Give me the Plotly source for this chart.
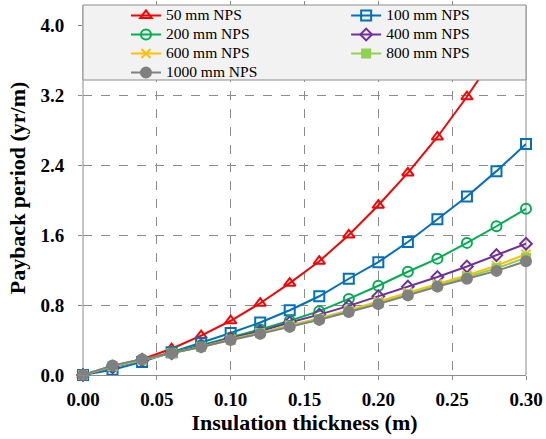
import plotly.graph_objects as go

thickness = [0.00, 0.02, 0.04, 0.06, 0.08, 0.10, 0.12, 0.14, 0.16, 0.18, 0.20, 0.22, 0.24, 0.26, 0.28, 0.30]

nps_50 = [0.00, 0.10, 0.18, 0.30, 0.45, 0.62, 0.82, 1.05, 1.30, 1.60, 1.94, 2.31, 2.72, 3.18, 3.68]
nps_100 = [0.00, 0.06, 0.15, 0.26, 0.37, 0.48, 0.60, 0.74, 0.90, 1.10, 1.29, 1.52, 1.78, 2.04, 2.33, 2.64]
nps_200 = [0.00, 0.09, 0.17, 0.26, 0.34, 0.43, 0.52, 0.62, 0.73, 0.87, 1.02, 1.18, 1.33, 1.51, 1.70, 1.90]
nps_400 = [0.00, 0.09, 0.17, 0.25, 0.33, 0.42, 0.50, 0.60, 0.69, 0.79, 0.90, 1.01, 1.12, 1.24, 1.37, 1.50]
nps_600 = [0.00, 0.10, 0.17, 0.25, 0.32, 0.41, 0.48, 0.57, 0.65, 0.74, 0.84, 0.94, 1.04, 1.14, 1.25, 1.38]
nps_800 = [0.00, 0.10, 0.17, 0.25, 0.32, 0.40, 0.48, 0.56, 0.64, 0.73, 0.82, 0.92, 1.02, 1.12, 1.22, 1.34]
nps_1000 = [0.00, 0.11, 0.18, 0.25, 0.32, 0.40, 0.47, 0.55, 0.63, 0.72, 0.81, 0.91, 1.01, 1.10, 1.19, 1.30]

# (name, values, colour, symbol, size, legend column)
series = [
    ("50 mm NPS", nps_50, "#FF0000", "triangle-up-open", 10, "legend"),
    ("100 mm NPS", nps_100, "#0070C0", "square-open", 10, "legend2"),
    ("200 mm NPS", nps_200, "#00B050", "circle-open", 10, "legend"),
    ("400 mm NPS", nps_400, "#7030A0", "diamond-open", 9, "legend2"),
    ("600 mm NPS", nps_600, "#FFC000", "x-thin-open", 9, "legend"),
    ("800 mm NPS", nps_800, "#92D050", "square", 8, "legend2"),
    ("1000 mm NPS", nps_1000, "#808080", "circle", 10, "legend"),
]

y_ticks = [0.0, 0.8, 1.6, 2.4, 3.2, 4.0]
x_ticks = [0.00, 0.05, 0.10, 0.15, 0.20, 0.25, 0.30]

fig = go.Figure()
for name, vals, color, sym, size, leg in series:
    fig.add_trace(go.Scatter(
        x=thickness[:len(vals)], y=vals,
        name='<span style="font-size:15.5px">' + name + '</span>',
        mode="lines+markers",
        line=dict(color=color, width=2),
        marker=dict(symbol=sym, size=size, color=color,
                    line=dict(color=color, width=2)),
        cliponaxis=False, legend=leg,
    ))

font_family = "Liberation Serif, Times New Roman, serif"

box_top = 370 / 374
box_bottom = (375 - 80) / 374
axis_grey = "#8C8C8C"

# frame lines (left axis and right edge) up to the legend box
for xp in (0, 1):
    fig.add_shape(type="line", xref="paper", yref="paper",
                  x0=xp, x1=xp, y0=0, y1=box_top,
                  line=dict(color=axis_grey, width=1), layer="between")

# legend background box
fig.add_shape(type="rect", xref="paper", yref="paper",
              x0=0, x1=1, y0=box_bottom, y1=box_top,
              fillcolor="#F2F2F2", line=dict(color=axis_grey, width=1),
              layer="above")

legend_common = dict(
    orientation="v", y=1.0, xanchor="left", yanchor="top",
    bgcolor="rgba(0,0,0,0)", borderwidth=0,
    font=dict(family=font_family, size=12, color="#000000"),
    itemwidth=30, tracegroupgap=0,
)

fig.update_layout(
    width=546, height=439,
    margin=dict(l=83, r=20, t=1, b=64),
    paper_bgcolor="white", plot_bgcolor="white",
    font=dict(family=font_family, color="#000000"),
    showlegend=True,
    legend=dict(x=0.097, **legend_common),
    legend2=dict(x=0.594, **legend_common),
    xaxis=dict(
        range=[0, 0.30], tickvals=x_ticks, tickformat=".2f",
        showline=True, linecolor=axis_grey, linewidth=1,
        ticks="outside", ticklen=4, tickcolor=axis_grey,
        ticklabelstandoff=3,
        showgrid=True, gridcolor=axis_grey, griddash="dash", gridwidth=1,
        zeroline=False,
        tickfont=dict(family=font_family, size=19, color="#000000", weight="bold"),
        title=dict(text="<b>Insulation thickness (m)</b>",
                   font=dict(family=font_family, size=22, color="#000000"),
                   standoff=0),
    ),
    yaxis=dict(
        range=[0, 374 / 87.5], tickvals=y_ticks, tickformat=".1f",
        showline=False,
        ticks="outside", ticklen=4, tickcolor=axis_grey,
        ticklabelstandoff=10,
        showgrid=True, gridcolor=axis_grey, griddash="dash", gridwidth=1,
        zeroline=False,
        tickfont=dict(family=font_family, size=19, color="#000000", weight="bold"),
        title=dict(text="<b>Payback period (yr/m)</b>",
                   font=dict(family=font_family, size=22, color="#000000"),
                   standoff=8),
    ),
)

fig.write_html("out.html", config={"displayModeBar": False},
               post_script="document.body.style.margin='0';")
